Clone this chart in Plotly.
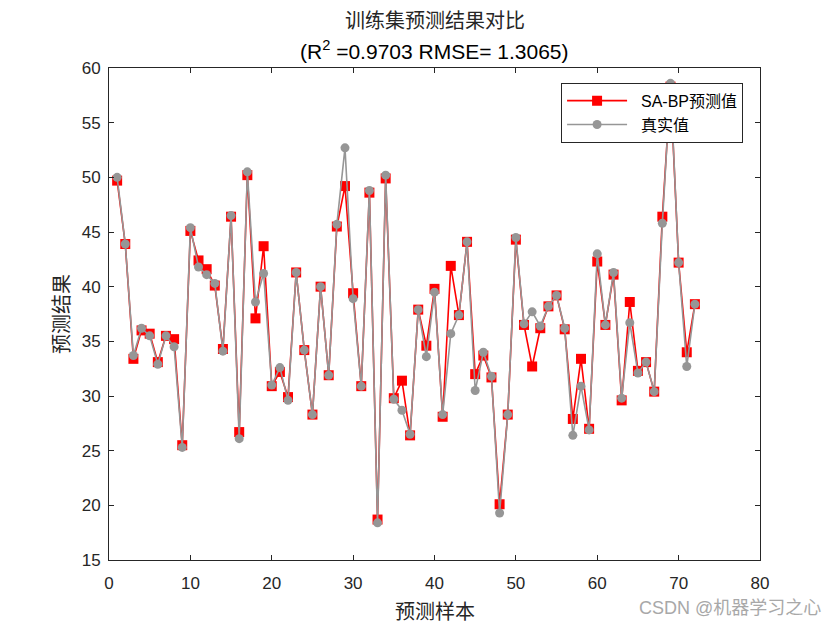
import plotly.graph_objects as go

samples = list(range(1, 73))
pred = [49.7, 43.9, 33.4, 36.0, 35.7, 33.1, 35.5, 35.2, 25.5, 45.1,
        42.4, 41.6, 40.1, 34.3, 46.4, 26.7, 50.2, 37.1, 43.7, 30.9,
        32.2, 29.9, 41.3, 34.2, 28.3, 40.0, 31.9, 45.5, 49.2, 39.4,
        30.9, 48.6, 18.7, 49.9, 29.8, 31.4, 26.4, 37.9, 34.6, 39.8,
        28.1, 41.9, 37.4, 44.1, 32.0, 33.7, 31.7, 20.1, 28.3, 44.3,
        36.5, 32.7, 36.2, 38.2, 39.2, 36.1, 27.9, 33.4, 27.0, 42.3,
        36.5, 41.1, 29.6, 38.6, 32.3, 33.1, 30.4, 46.4, 58.3, 42.2,
        34.0, 38.4]
true_vals = [50.0, 43.9, 33.7, 36.2, 35.5, 32.9, 35.5, 34.5, 25.3, 45.4,
             41.8, 41.1, 40.3, 34.1, 46.5, 26.1, 50.5, 38.6, 41.2, 31.0,
             32.6, 29.6, 41.3, 34.2, 28.3, 40.0, 31.9, 45.7, 52.7, 38.9,
             30.9, 48.8, 18.4, 50.2, 29.7, 28.7, 26.5, 37.9, 33.6, 39.5,
             28.3, 35.7, 37.4, 44.1, 30.5, 34.0, 31.8, 19.3, 28.3, 44.5,
             36.6, 37.7, 36.4, 38.2, 39.2, 36.2, 26.4, 30.9, 26.9, 43.0,
             36.5, 41.3, 29.8, 36.7, 32.1, 33.1, 30.4, 45.8, 58.6, 42.2,
             32.7, 38.4]
x_ticks = [0, 10, 20, 30, 40, 50, 60, 70, 80]
y_ticks = [15, 20, 25, 30, 35, 40, 45, 50, 55, 60]

FONT = "Liberation Sans, Arial, Noto Sans CJK SC"
PAD = "\u00a0" * 2

fig = go.Figure()
fig.add_trace(go.Scatter(
    x=samples, y=pred, mode="lines+markers", name=PAD + "SA-BP预测值",
    line=dict(color="#FF0000", width=1.6),
    marker=dict(symbol="square", size=10, color="#FF0000"),
))
fig.add_trace(go.Scatter(
    x=samples, y=true_vals, mode="lines+markers", name=PAD + "真实值",
    line=dict(color="#969696", width=1.6),
    marker=dict(symbol="circle", size=9, color="#969696"),
))

axis_common = dict(
    showgrid=False, zeroline=False, showline=True, linecolor="#262626",
    linewidth=1, mirror="ticks", ticks="inside", ticklen=5,
    tickcolor="#262626", tickfont=dict(family=FONT, size=17, color="#262626"),
)
fig.update_xaxes(range=[0, 80], tickvals=x_ticks, ticklabelstandoff=8, **axis_common)
fig.update_yaxes(range=[15, 60], tickvals=y_ticks, ticklabelstandoff=4, **axis_common)

fig.update_layout(
    width=840, height=630,
    margin=dict(l=101, r=88, t=60, b=78),
    paper_bgcolor="white", plot_bgcolor="white",
    font=dict(family=FONT, color="#262626"),
    showlegend=True,
    legend=dict(
        x=0.974, y=0.97, xanchor="right", yanchor="top",
        bgcolor="white", bordercolor="#262626", borderwidth=1,
        font=dict(family=FONT, size=16, color="#000000"),
        tracegroupgap=0, itemwidth=60,
    ),
    annotations=[
        dict(text="训练集预测结果对比", xref="paper", yref="paper",
             x=0.5, y=1.0, yshift=47, xanchor="center", yanchor="middle",
             showarrow=False, font=dict(family=FONT, size=20, color="#262626")),
        dict(text="(R<sup>2</sup> =0.9703 RMSE= 1.3065)", xref="paper", yref="paper",
             x=0.5, y=1.0, yshift=18, xanchor="center", yanchor="middle",
             showarrow=False, font=dict(family=FONT, size=21, color="#000000")),
        dict(text="预测样本", xref="paper", yref="paper",
             x=0.5, y=0.0, yshift=-52, xanchor="center", yanchor="middle",
             showarrow=False, font=dict(family=FONT, size=20, color="#262626")),
        dict(text="预测结果", xref="paper", yref="paper",
             x=0.0, y=0.5, xshift=-47, xanchor="center", yanchor="middle",
             textangle=-90, showarrow=False,
             font=dict(family=FONT, size=20, color="#262626")),
        dict(text="CSDN @机器学习之心", xref="paper", yref="paper",
             x=1.0, y=0.0, xshift=63, yshift=-48, xanchor="right", yanchor="middle",
             showarrow=False, font=dict(family=FONT, size=18, color="#A8A8A8")),
    ],
)

fig.write_html("out.html")
